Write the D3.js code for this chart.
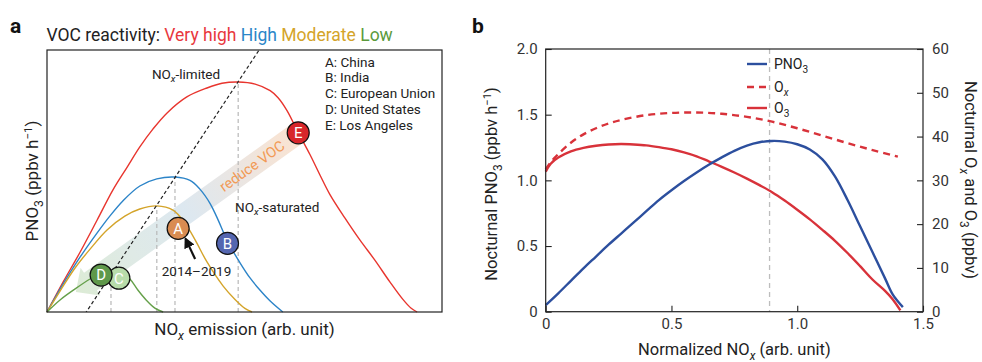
<!DOCTYPE html>
<html><head><meta charset="utf-8">
<script src="https://cdn.jsdelivr.net/npm/d3@7"></script>
<style>body{margin:0;background:#fff}svg{font-family:Roboto,"Noto Sans",sans-serif}</style>
</head><body>
<svg id="c" width="982" height="362"></svg>
<script>
// ---------- Panel a data (arbitrary units) ----------
const curveVeryHigh = [[0,0],[0.041,0.115],[0.084,0.229],[0.127,0.351],[0.167,0.466],[0.203,0.553],[0.235,0.630],[0.268,0.698],[0.304,0.760],[0.354,0.821],[0.405,0.855],[0.443,0.873],[0.484,0.878],[0.527,0.870],[0.565,0.845],[0.585,0.818],[0.608,0.768],[0.635,0.688],[0.666,0.600],[0.691,0.523],[0.716,0.449],[0.754,0.359],[0.792,0.275],[0.830,0.198],[0.868,0.115],[0.901,0.048],[0.922,0.014],[0.937,0]];
const curveHigh = [[0,0],[0.041,0.107],[0.084,0.210],[0.127,0.302],[0.159,0.366],[0.192,0.424],[0.235,0.481],[0.278,0.508],[0.324,0.515],[0.362,0.502],[0.387,0.469],[0.413,0.414],[0.430,0.362],[0.458,0.267],[0.489,0.187],[0.514,0.130],[0.539,0.084],[0.565,0.042],[0.597,0]];
const curveModerate = [[0,0],[0.033,0.080],[0.071,0.168],[0.109,0.240],[0.152,0.313],[0.197,0.366],[0.235,0.393],[0.278,0.405],[0.319,0.389],[0.349,0.340],[0.375,0.275],[0.405,0.191],[0.446,0.099],[0.476,0.048],[0.501,0.014],[0.519,0]];
const curveLow = [[0,0],[0.033,0.046],[0.071,0.088],[0.109,0.126],[0.134,0.145],[0.162,0.156],[0.190,0.149],[0.210,0.126],[0.230,0.084],[0.251,0.046],[0.273,0.015],[0.294,0]];
const limitLine = [[0.096,-0.008],[0.537,1.0]];
const regionLetters = ["A","B","C","D","E"];
const regionNames = ["China","India","European Union","United States","Los Angeles"];
const regionX = [0.332,0.457,0.182,0.137,0.636];
const regionY = [0.319,0.262,0.129,0.141,0.684];
const regionFill = ["#d98c52","#5466b0","#b8dcaa","#5f984a","#d8262a"];
const bandStart = [0.636,0.684];
const bandEnd = [0.073,0.076];
const arrowFrom = [0.375,0.202];
const arrowTo = [0.351,0.279];

// ---------- Panel b data ----------
const pno3X = [0,0.05,0.1,0.15,0.2,0.25,0.3,0.35,0.4,0.45,0.5,0.55,0.6,0.65,0.7,0.75,0.8,0.85,0.9,0.95,1.0,1.05,1.1,1.15,1.2,1.25,1.3,1.35,1.38,1.42];
const pno3Y = [0.05,0.14,0.235,0.33,0.42,0.51,0.595,0.68,0.765,0.85,0.925,0.995,1.06,1.12,1.175,1.225,1.265,1.29,1.30,1.295,1.275,1.235,1.16,1.03,0.85,0.65,0.45,0.25,0.13,0.035];
const o3X = [0,0.02,0.05,0.1,0.15,0.2,0.25,0.3,0.35,0.4,0.45,0.5,0.55,0.6,0.65,0.7,0.75,0.8,0.85,0.9,0.95,1.0,1.05,1.1,1.15,1.2,1.25,1.3,1.35,1.38,1.41];
const o3Y = [32.0,33.8,35.2,36.6,37.4,37.9,38.2,38.3,38.2,38.0,37.6,37.1,36.4,35.5,34.3,33.1,31.8,30.4,28.9,27.3,25.4,23.3,21.1,18.7,16.2,13.4,10.4,7.3,4.7,2.8,0.3];
const oxX = [0,0.025,0.05,0.1,0.15,0.2,0.25,0.3,0.4,0.5,0.6,0.7,0.8,0.9,1.0,1.1,1.2,1.3,1.4];
const oxY = [32.5,34.5,36.0,38.6,40.5,41.9,43.0,43.8,44.9,45.4,45.5,45.2,44.5,43.4,41.9,40.2,38.5,36.9,35.4];
const pno3PeakX = 0.89;
const xTicksB = [0,0.5,1.0,1.5];
const yTicksL = [0,0.5,1.0,1.5,2.0];
const yTicksR = [0,10,20,30,40,50,60];

const svg = d3.select("#c");
const defs = svg.append("defs");

// rich text helper: parts = [[text, type]] type: n, sub, subi, sup
function rich(t, parts, fs){
  let shift = 0;
  parts.forEach(([s,type])=>{
    const ts = t.append("tspan").text(s);
    let target = 0;
    if(type==="sub"||type==="subi"){ target = fs*0.28; ts.attr("font-size", fs*0.72); if(type==="subi") ts.attr("font-style","italic"); }
    else if(type==="sup"){ target = -fs*0.38; ts.attr("font-size", fs*0.68); }
    if(target!==shift){ ts.attr("dy", target-shift); shift = target; }
  });
}

// ================= Panel a =================
const ax = d3.scaleLinear().domain([0,1]).range([47,442]);
const ay = d3.scaleLinear().domain([0,1]).range([312,50]);
const ga = svg.append("g");
defs.append("clipPath").attr("id","clipA").append("rect")
  .attr("x",ax(0)).attr("y",ay(1)).attr("width",ax(1)-ax(0)).attr("height",ay(0)-ay(1));

// band (reduce VOC)
{
  const x1=ax(bandStart[0]), y1=ay(bandStart[1]), x2=ax(bandEnd[0]), y2=ay(bandEnd[1]);
  const dx=x2-x1, dy=y2-y1, L=Math.hypot(dx,dy), ux=dx/L, uy=dy/L, nx=-uy, ny=ux;
  const w=11, hw=17, hl=18;
  const bx=x2-ux*hl, by=y2-uy*hl;
  const pts=[[x1+nx*w,y1+ny*w],[bx+nx*w,by+ny*w],[bx+nx*hw,by+ny*hw],[x2,y2],[bx-nx*hw,by-ny*hw],[bx-nx*w,by-ny*w],[x1-nx*w,y1-ny*w]];
  const grad = defs.append("linearGradient").attr("id","bandGrad")
    .attr("gradientUnits","userSpaceOnUse").attr("x1",x1).attr("y1",y1).attr("x2",x2).attr("y2",y2);
  grad.append("stop").attr("offset",0).attr("stop-color","#fbe3d0");
  grad.append("stop").attr("offset",0.3).attr("stop-color","#e9e6e4");
  grad.append("stop").attr("offset",0.5).attr("stop-color","#dde8f0");
  grad.append("stop").attr("offset",0.75).attr("stop-color","#dfeae6");
  grad.append("stop").attr("offset",1).attr("stop-color","#dcebd5");
  ga.append("path").attr("d", d3.line()(pts)+"Z").attr("fill","url(#bandGrad)");
  const ang = Math.atan2(y1-y2, x1-x2)*180/Math.PI;
  const cx = ax(0.519), cy = ay(0.557);
  ga.append("text").attr("transform",`translate(${cx},${cy}) rotate(${ang})`)
    .attr("text-anchor","middle").attr("dy","0.35em").attr("font-size",14.5)
    .attr("fill","#f29a55").text("reduce VOC");
}

const lineA = d3.line().x(d=>ax(d[0])).y(d=>ay(d[1])).curve(d3.curveCatmullRom.alpha(0.5));
const curves = [[curveVeryHigh,"#e8352e"],[curveHigh,"#2c84c8"],[curveModerate,"#d4a42a"],[curveLow,"#65a04a"]];
// vertical dashed at peaks
curves.forEach(([c])=>{
  const p = c.reduce((a,b)=>b[1]>a[1]?b:a);
  ga.append("line").attr("x1",ax(p[0])).attr("x2",ax(p[0])).attr("y1",ay(0)).attr("y2",ay(p[1]))
    .attr("stroke","#b8b8b8").attr("stroke-width",1.2).attr("stroke-dasharray","4,3");
});
curves.forEach(([c,col])=>{
  ga.append("path").attr("d",lineA(c)).attr("fill","none").attr("stroke",col).attr("stroke-width",1.4);
});
ga.append("line").attr("clip-path","url(#clipA)")
  .attr("x1",ax(limitLine[0][0])).attr("y1",ay(limitLine[0][1]))
  .attr("x2",ax(limitLine[1][0])).attr("y2",ay(limitLine[1][1]))
  .attr("stroke","#222").attr("stroke-width",1.2).attr("stroke-dasharray","3.5,2.5");

// arrow 2014-2019
defs.append("marker").attr("id","ah").attr("viewBox","0 0 10 10").attr("refX",8).attr("refY",5)
  .attr("markerWidth",5).attr("markerHeight",5).attr("orient","auto")
  .append("path").attr("d","M0,0L10,5L0,10Z").attr("fill","#111");
ga.append("line").attr("x1",ax(arrowFrom[0])).attr("y1",ay(arrowFrom[1]))
  .attr("x2",ax(arrowTo[0])).attr("y2",ay(arrowTo[1])).attr("stroke","#111").attr("stroke-width",2.2)
  .attr("marker-end","url(#ah)");

// circles (C first so D overlaps it)
const order = [2,3,0,1,4];
order.forEach(i=>{
  const g = ga.append("g").attr("transform",`translate(${ax(regionX[i])},${ay(regionY[i])})`);
  g.append("circle").attr("r",11).attr("fill",regionFill[i]).attr("stroke","#111").attr("stroke-width",1.2);
  g.append("text").attr("text-anchor","middle").attr("dy","0.36em").attr("font-size",15).attr("fill","#fff").text(regionLetters[i]);
});

// frame
ga.append("rect").attr("x",ax(0)).attr("y",ay(1)).attr("width",ax(1)-ax(0)).attr("height",ay(0)-ay(1))
  .attr("fill","none").attr("stroke","#222").attr("stroke-width",1.2);

// texts
{
  const t = ga.append("text").attr("x",186).attr("y",78.5).attr("text-anchor","middle").attr("font-size",13.5).attr("fill","#222");
  rich(t,[["NO","n"],["x","subi"],["-limited","n"]],13.5);
  const t2 = ga.append("text").attr("x",235).attr("y",211.5).attr("font-size",13.5).attr("fill","#222");
  rich(t2,[["NO","n"],["x","subi"],["-saturated","n"]],13.5);
  ga.append("text").attr("x",196.5).attr("y",276).attr("text-anchor","middle").attr("font-size",13.5).attr("fill","#222").text("2014\u20132019");
  regionLetters.forEach((l,i)=>{
    ga.append("text").attr("x",325).attr("y",66.5+15.9*i).attr("font-size",13.5).attr("fill","#222").text(l+": "+regionNames[i]);
  });
  const tt = svg.append("text").attr("x",46.5).attr("y",41).attr("font-size",17.5).attr("fill","#222");
  [["VOC reactivity: ","#222"],["Very high ","#e8383d"],["High ","#2a86c8"],["Moderate ","#d4a42a"],["Low","#5b9a3c"]]
    .forEach(([s,c])=>tt.append("tspan").attr("fill",c).text(s));
  const xl = svg.append("text").attr("x",244.5).attr("y",335).attr("text-anchor","middle").attr("font-size",17).attr("fill","#222");
  rich(xl,[["NO","n"],["x","subi"],[" emission (arb. unit)","n"]],17);
  const yl = svg.append("text").attr("transform","translate(38,181) rotate(-90)").attr("text-anchor","middle").attr("font-size",17).attr("fill","#222");
  rich(yl,[["PNO","n"],["3","sub"],[" (ppbv h","n"],["\u22121","sup"],[")","n"]],17);
  svg.append("text").attr("x",10).attr("y",33).attr("font-size",21).attr("font-weight","bold").attr("fill","#111").text("a");
  svg.append("text").attr("x",472).attr("y",33).attr("font-size",21).attr("font-weight","bold").attr("fill","#111").text("b");
}

// ================= Panel b =================
const bx = d3.scaleLinear().domain([0,1.5]).range([545.7,923]);
const byL = d3.scaleLinear().domain([0,2]).range([311.7,49]);
const byR = d3.scaleLinear().domain([0,60]).range([311.7,49]);
const gb = svg.append("g");
const fmt1 = d => d===0 ? "0" : d3.format(".1f")(d);

gb.append("line").attr("x1",bx(pno3PeakX)).attr("x2",bx(pno3PeakX)).attr("y1",byL(2)).attr("y2",byL(0))
  .attr("stroke","#bdbdbd").attr("stroke-width",1.3).attr("stroke-dasharray","5,4");

const axL = gb.append("g").attr("transform",`translate(${bx(0)},0)`).call(d3.axisLeft(byL).tickValues(yTicksL).tickFormat(fmt1).tickSizeInner(-6).tickSizeOuter(0).tickPadding(8));
const axR = gb.append("g").attr("transform",`translate(${bx(1.5)},0)`).call(d3.axisRight(byR).tickValues(yTicksR).tickSizeInner(-6).tickSizeOuter(0).tickPadding(9));
const axB = gb.append("g").attr("transform",`translate(0,${byL(0)})`).call(d3.axisBottom(bx).tickValues(xTicksB).tickFormat(fmt1).tickSizeInner(-6).tickSizeOuter(0).tickPadding(7));
[axL,axR,axB].forEach(a=>{
  a.select(".domain").remove();
  a.selectAll("line").attr("stroke","#222").attr("stroke-width",1.1);
  a.selectAll("text").attr("font-size",15).attr("fill","#333").attr("font-family","Roboto,'Noto Sans',sans-serif");
});
axR.selectAll(".tick text").attr("x",9);

const lineB = d3.line().curve(d3.curveCatmullRom.alpha(0.5));
gb.append("path").attr("d",lineB(oxX.map((x,i)=>[bx(x),byR(oxY[i])]))).attr("fill","none")
  .attr("stroke","#d8323a").attr("stroke-width",2.4).attr("stroke-dasharray","7,5");
gb.append("path").attr("d",lineB(o3X.map((x,i)=>[bx(x),byR(o3Y[i])]))).attr("fill","none")
  .attr("stroke","#d8323a").attr("stroke-width",2.4);
gb.append("path").attr("d",lineB(pno3X.map((x,i)=>[bx(x),byL(pno3Y[i])]))).attr("fill","none")
  .attr("stroke","#2c4f9e").attr("stroke-width",2.4);

gb.append("rect").attr("x",bx(0)).attr("y",byL(2)).attr("width",bx(1.5)-bx(0)).attr("height",byL(0)-byL(2))
  .attr("fill","none").attr("stroke","#222").attr("stroke-width",1.2);

// legend
const legB = [["PNO","3","#2c4f9e",null,"sub"],["O","x","#d8323a","7,5","subi"],["O","3","#d8323a",null,"sub"]];
legB.forEach(([a,s,c,dash,type],i)=>{
  const y = [64,87,108][i];
  gb.append("line").attr("x1",747).attr("x2",767).attr("y1",y).attr("y2",y).attr("stroke",c).attr("stroke-width",2.4)
    .attr("stroke-dasharray",dash);
  const t = gb.append("text").attr("x",774).attr("y",y+5).attr("font-size",14).attr("fill","#222");
  rich(t,[[a,"n"],[s,type]],14);
});

// axis labels b
{
  const xl = svg.append("text").attr("x",734.4).attr("y",355).attr("text-anchor","middle").attr("font-size",16.5).attr("fill","#222");
  rich(xl,[["Normalized NO","n"],["x","subi"],[" (arb. unit)","n"]],16.5);
  const yl = svg.append("text").attr("transform","translate(497,184) rotate(-90)").attr("text-anchor","middle").attr("font-size",16.5).attr("fill","#222");
  rich(yl,[["Nocturnal PNO","n"],["3","sub"],[" (ppbv h","n"],["\u22121","sup"],[")","n"]],16.5);
  const yr = svg.append("text").attr("transform","translate(965,180) rotate(90)").attr("text-anchor","middle").attr("font-size",16.5).attr("fill","#222");
  rich(yr,[["Nocturnal O","n"],["x","subi"],[" and O","n"],["3","sub"],[" (ppbv)","n"]],16.5);
}
</script>
</body></html>
